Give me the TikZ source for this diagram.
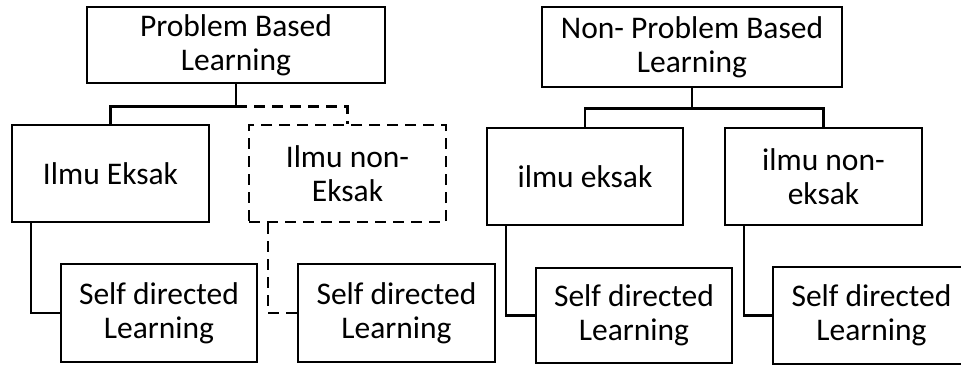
\documentclass[tikz,border=0pt]{standalone}
\usepackage{fontspec}
\setmainfont{Carlito}
\begin{document}
\begin{tikzpicture}[x=1pt,y=-1pt,
  box/.style={draw=black, line width=2.5pt, fill=white, inner sep=0pt, align=center,
    font=\fontsize{31.5}{34}\selectfont, text=black},
  dbox/.style={box, dash pattern=on 11pt off 7pt},
  conn/.style={draw=black, line width=2.5pt},
  dconn/.style={conn, dash pattern=on 11pt off 7pt}]
\useasboundingbox (0,0) rectangle (961,365);
\clip (0,0) rectangle (961,365);
\fill[white] (0,0) rectangle (961,365);
% left tree
\node[box, minimum width=298pt, minimum height=76pt] (pbl) at (236,45) {Problem Based\\Learning};
\node[box, minimum width=197pt, minimum height=97pt] (ie) at (110.5,173.5) {Ilmu Eksak};
\node[dbox, minimum width=197pt, minimum height=97pt] (ine) at (347.5,173.5) {Ilmu non-\\Eksak};
\node[box, minimum width=196pt, minimum height=98pt] (sdl1) at (159,313) {Self directed\\Learning};
\node[box, minimum width=197pt, minimum height=98pt] (sdl2) at (396.5,313) {Self directed\\Learning};
% right tree
\node[box, minimum width=300pt, minimum height=80pt] (npbl) at (692,47) {Non- Problem Based\\Learning};
\node[box, minimum width=196pt, minimum height=97pt] (ie2) at (585,176.5) {ilmu eksak};
\node[box, minimum width=197pt, minimum height=97pt] (ine2) at (823.5,176.5) {ilmu non-\\eksak};
\node[box, minimum width=196pt, minimum height=95pt] (sdl3) at (634,315.5) {Self directed\\Learning};
\node[box, minimum width=197pt, minimum height=97pt] (sdl4) at (871.5,315.5) {Self directed\\Learning};
% connectors left
\draw[conn] (pbl.south) -- ++(0,22) coordinate (j1) -| (ie.north);
\draw[dconn] (j1) -| (ine.north);
\draw[conn] ([xshift=20pt]ie.south west) |- (sdl1.west);
\draw[dconn] ([xshift=20pt]ine.south west) |- (sdl2.west);
% connectors right
\draw[conn] (npbl.south) -- ++(0,20) coordinate (j2) -| (ie2.north);
\draw[conn] (j2) -| (ine2.north);
\draw[conn] ([xshift=20pt]ie2.south west) |- (sdl3.west);
\draw[conn] ([xshift=20pt]ine2.south west) |- (sdl4.west);
\end{tikzpicture}
\end{document}
